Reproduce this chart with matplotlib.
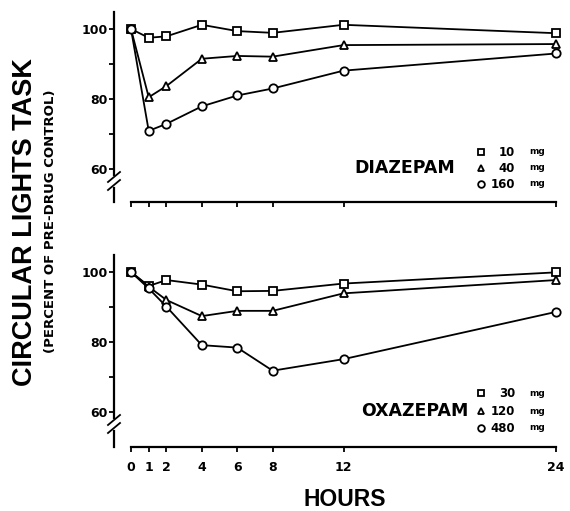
import numpy as np
import matplotlib.pyplot as plt

hours = [0, 1, 2, 4, 6, 8, 12, 24]

dia_doses = ['10', '40', '160']
dia_10 = [100, 97.5, 97.9, 101.2, 99.4, 98.9, 101.2, 98.8]
dia_40 = [100, 80.5, 83.7, 91.5, 92.3, 92.1, 95.4, 95.7]
dia_160 = [100, 70.9, 72.9, 77.9, 81.0, 83.0, 88.1, 93.0]

oxa_doses = ['30', '120', '480']
oxa_30 = [100, 96.0, 97.7, 96.4, 94.5, 94.6, 96.7, 99.9]
oxa_120 = [100, 95.8, 92.0, 87.4, 88.9, 88.9, 93.9, 97.7]
oxa_480 = [100, 95.3, 90.1, 79.1, 78.4, 71.8, 75.1, 88.6]

markers = ['s', '^', 'o']

W, H = 570, 511
fig = plt.figure(figsize=(W / 100, H / 100), dpi=100)


def fx(px):
    return px / W


def fy(py):
    return 1 - py / H


def px_axes(left, top, right, bottom):
    return fig.add_axes([fx(left), fy(bottom), (right - left) / W, (bottom - top) / H])


# x scale: hour 0 at px 131, hour 24 at px 556
xppu = (556 - 131) / 24.0
yppu = 3.5


def setup(ax, top, bottom, y100, show_labels):
    xlo = -(131 - 114) / xppu
    xhi = 24 + (560 - 556) / xppu
    ylo = 100 - (bottom - y100) / yppu
    yhi = 100 + (y100 - top) / yppu
    ax.set_xlim(xlo, xhi)
    ax.set_ylim(ylo, yhi)
    for s in ['top', 'right']:
        ax.spines[s].set_visible(False)
    ax.spines['bottom'].set_bounds(0, 24)
    ax.spines['bottom'].set_linewidth(1.6)
    # broken y axis below 60
    upper_end = 60 - 6 / yppu
    lower_start = 60 - 19 / yppu
    ax.spines['left'].set_bounds(upper_end, yhi)
    ax.spines['left'].set_linewidth(1.6)
    ax.plot([xlo, xlo], [ylo, lower_start], color='k', lw=1.6, clip_on=False)
    dx = 6 / xppu
    dy = 5 / yppu
    for yb in [60 - 8 / yppu, 60 - 16 / yppu]:
        ax.plot([xlo - dx, xlo + dx], [yb - dy, yb + dy], color='k', lw=1.3, clip_on=False)
    ax.set_xticks(hours)
    ax.set_yticks([60, 80, 100])
    ax.set_yticks([70, 90], minor=True)
    ax.tick_params(axis='both', which='both', direction='out', length=3.8, width=1.3)
    ax.tick_params(axis='y', pad=1)
    ax.tick_params(axis='x', pad=6, labelbottom=show_labels)
    for lab in ax.get_xticklabels() + ax.get_yticklabels():
        lab.set_fontweight('bold')
        lab.set_fontsize(9)


def draw_series(ax, series):
    for vals, m in zip(series, markers):
        ax.plot(hours, vals, color='k', lw=1.3, marker=m, ms=6,
                mfc='white', mec='k', mew=1.3, clip_on=False, zorder=3)


def legend(name, name_right, rows_y, doses):
    fig.text(fx(name_right), fy(rows_y[1]), name, ha='right', va='center',
             fontsize=12.5, fontweight='bold')
    for y, d, m in zip(rows_y, doses, markers):
        fig.lines.append(plt.Line2D([fx(481)], [fy(y)], marker=m, ms=4.8, mfc='white',
                                    mec='k', mew=1.3, transform=fig.transFigure))
        fig.text(fx(515), fy(y), d, ha='right', va='center', fontsize=8.5, fontweight='bold')
        fig.text(fx(529), fy(y), 'mg', ha='left', va='center', fontsize=6.5, fontweight='bold')


ax1 = px_axes(114, 12, 560, 202)
setup(ax1, 12, 202, 29, False)
draw_series(ax1, [dia_10, dia_40, dia_160])

ax2 = px_axes(114, 255, 560, 447)
setup(ax2, 255, 447, 272, True)
draw_series(ax2, [oxa_30, oxa_120, oxa_480])

legend('DIAZEPAM', 455, [152, 168, 184], dia_doses)
legend('OXAZEPAM', 468, [393, 411, 428], oxa_doses)

fig.text(fx(25), fy(222.5), 'CIRCULAR LIGHTS TASK', rotation=90, ha='center', va='center',
         fontsize=19.5, fontweight='bold', family='Liberation Sans')
fig.text(fx(51), fy(221.5), '(PERCENT OF PRE-DRUG CONTROL)', rotation=90, ha='center',
         va='center', fontsize=9.5, fontweight='bold')
fig.text(fx(345), fy(500), 'HOURS', ha='center', va='center',
         fontsize=16.5, fontweight='bold', family='Liberation Sans')

fig.savefig('out.png', dpi=100)
